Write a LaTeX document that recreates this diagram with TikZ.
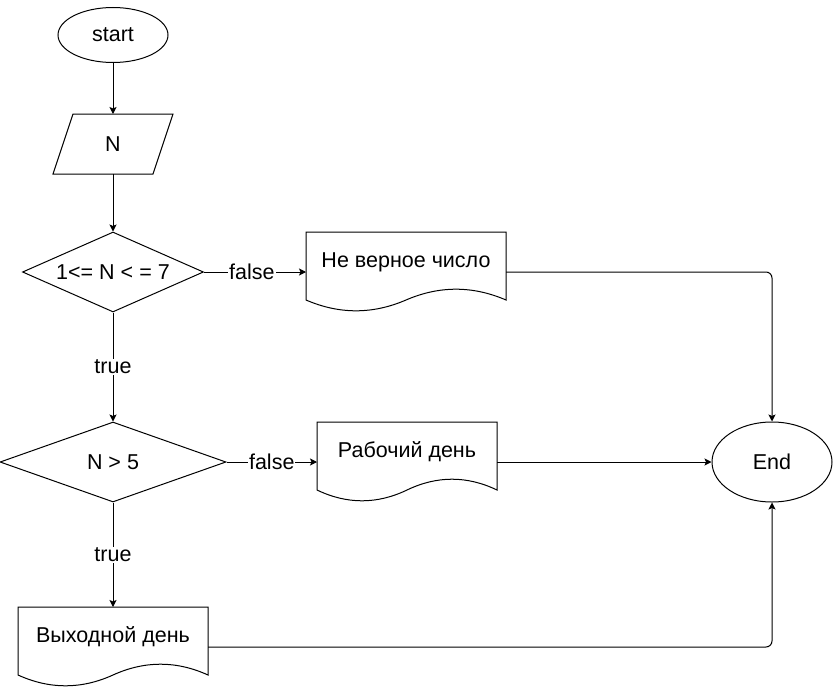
\documentclass[tikz,border=0pt]{standalone}
\usepackage{fontspec}
\setmainfont{Liberation Sans}
\usetikzlibrary{shapes.geometric,arrows.meta,calc}

\tikzset{
    base/.style={draw, inner sep=1pt},
    term/.style={base, ellipse, minimum width=110pt, minimum height=55pt},
    cond/.style={base, diamond, minimum height=80pt},
    io/.style={inner sep=1pt, outer sep=0pt, minimum width=120pt, minimum height=60pt},
    doc/.style={inner sep=1pt, outer sep=0pt, minimum height=80pt, text height=15pt, text depth=25pt},
    flow/.style={-{Stealth[length=7pt,width=7pt,inset=1.5pt]}},
    lbl/.style={fill=white, inner sep=1pt},
}

% wavy document frame round a node
\newcommand{\docframe}[1]{%
    \draw (#1.north west) -- (#1.north east) -- ($(#1.south east)+(0,12pt)$)
        .. controls ($(#1.south east)!1/6!(#1.south west)+(0,26.4pt)$)
        and ($(#1.south east)!1/3!(#1.south west)+(0,26.4pt)$) .. ($(#1.south)+(0,12pt)$)
        .. controls ($(#1.south east)!2/3!(#1.south west)+(0,-2.4pt)$)
        and ($(#1.south east)!5/6!(#1.south west)+(0,-2.4pt)$) .. ($(#1.south west)+(0,12pt)$)
        -- cycle;}

% slanted input frame round a node
\newcommand{\ioframe}[1]{%
    \draw ($(#1.north west)+(20pt,0)$) -- (#1.north east)
        -- ($(#1.south east)+(-20pt,0)$) -- (#1.south west) -- cycle;}

\begin{document}
\begin{tikzpicture}[x=1pt, y=-1pt, line width=1pt, font=\fontsize{21.5}{25}\selectfont]

        \useasboundingbox (0,0) rectangle (833,688);

        \node[term] (start) at (113,35) {start};
        \node[io] (n) at (113,144) {N};
        \node[cond, minimum width=181pt, aspect=2.2] (c1) at (113,272) {1<= N < = 7};
        \node[cond, minimum width=226pt, aspect=2.8] (c2) at (113,462) {N > 5};
        \node[doc, minimum width=200pt] (d1) at (406,272) {Не верное число};
        \node[doc, minimum width=180pt] (d2) at (407,462) {Рабочий день};
        \node[doc, minimum width=190pt] (d3) at (113,647) {Выходной день};
        \node[term, minimum width=120pt, minimum height=80pt] (end) at (772,462) {End};

        \ioframe{n}
        \foreach \i in {d1,d2,d3}{
            \docframe{\i}
 }

        % Draw arrows
        \draw[flow] (start) -- (n);
        \draw[flow] (n) -- (c1);
        \draw[flow] (c1) -- node[lbl, pos=0.47] {false} (d1);
        \draw[flow] (c1) -- node[lbl] {true} (c2);
        \draw[flow] (c2) -- node[lbl] {false} (d2);
        \draw[flow] (c2) -- node[lbl] {true} (d3);
        \draw[flow, rounded corners=6pt] (d1.east) -| (end.north);
        \draw[flow] (d2) -- (end);
        \draw[flow, rounded corners=6pt] (d3.east) -| (end.south);

        \end{tikzpicture}
\end{document}
